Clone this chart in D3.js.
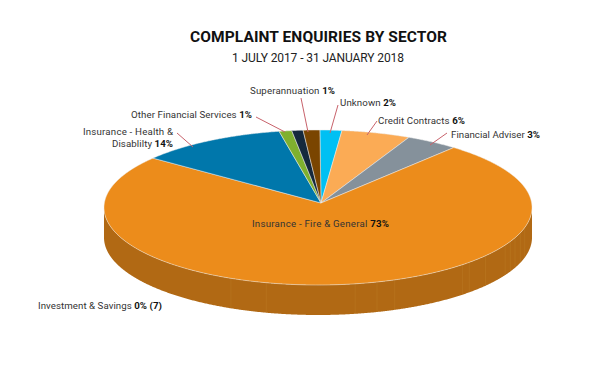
<!DOCTYPE html>
<html>
<head>
<meta charset="utf-8">
<script src="https://cdnjs.cloudflare.com/ajax/libs/d3/7.8.5/d3.min.js"></script>
<style>
html, body { margin: 0; padding: 0; background: #fff; }
svg { display: block; font-family: Roboto, sans-serif; }
</style>
</head>
<body>
<div id="chart"></div>
<script>
// slices clockwise from 12 o'clock, sizes as drawn in the picture (%)
const sectors = ["Unknown", "Credit Contracts", "Financial Adviser", "Insurance - Fire & General",
    "Insurance - Health & Disablilty", "Other Financial Services", "Investment & Savings", "Superannuation"];
const drawnShare = [1.65, 5.2, 3.95, 75.05, 11.1, 0.95, 0.85, 1.25];
const sliceColors = ["#00c0f3", "#fbab55", "#85919b", "#ec8c1b", "#0077ab", "#7fb02f", "#15293d", "#7a4500"];
// percentages as printed on the labels
const printedShare = ["2%", "6%", "3%", "73%", "14%", "1%", "0% (7)", "1%"];
// faint facet seams on the wall, angle round the rim in degrees
const seamDegrees = [204, 194, 170, 164, 159, 137.5, 135, 128.5, 119, 116, 113, 109, 105];

const width = 600, height = 365;
const cx = 318, cy = 207.5, rx = 214, ry = 77.5, depth = 30;
const apex = [321, 203];
const startDeg = 0.5;

const svg = d3.select("#chart").append("svg")
    .attr("width", width)
    .attr("height", height);

svg.append("text")
    .attr("x", 318.5).attr("y", 42)
    .attr("text-anchor", "middle")
    .attr("font-size", 15.5)
    .attr("font-weight", 700)
    .attr("fill", "#111")
    .attr("textLength", 257)
    .text("COMPLAINT ENQUIRIES BY SECTOR");
svg.append("text")
    .attr("x", 318).attr("y", 62)
    .attr("text-anchor", "middle")
    .attr("font-size", 12)
    .attr("fill", "#222")
    .attr("textLength", 172)
    .text("1 JULY 2017 - 31 JANUARY 2018");

const start = startDeg * Math.PI / 180;
const pie = d3.pie().sort(null).startAngle(start).endAngle(start + 2 * Math.PI);
const arcs = pie(drawnShare);

const onRim = (t, dy = 0) => [cx + rx * Math.sin(t), cy - ry * Math.cos(t) + dy];
const rimAngles = (a, b) => d3.range(a, b, 0.005).concat([b]);
const line = d3.line();

// side wall, only the part of a slice that faces the viewer
const wall = svg.append("g");
arcs.forEach((d, i) => {
    const a = Math.max(d.startAngle, Math.PI / 2);
    const b = Math.min(d.endAngle, 3 * Math.PI / 2);
    if (b <= a) return;
    const ts = rimAngles(a, b);
    const pts = ts.map(t => onRim(t)).concat(ts.slice().reverse().map(t => onRim(t, depth)));
    wall.append("path")
        .attr("d", line(pts) + "Z")
        .attr("fill", d3.color(sliceColors[i]).darker(0.8));
});

wall.selectAll("path.seam")
    .data(seamDegrees)
    .enter().append("path")
    .attr("class", "seam")
    .attr("d", d => {
        const t = d * Math.PI / 180;
        return line([onRim(t), onRim(t, depth)]);
    })
    .attr("stroke", "#c98a35")
    .attr("stroke-opacity", 0.25)
    .attr("stroke-width", 1);

// top face
svg.append("g").selectAll("path")
    .data(arcs)
    .enter().append("path")
    .attr("d", d => line([apex].concat(rimAngles(d.startAngle, d.endAngle).map(t => onRim(t)))) + "Z")
    .attr("fill", (d, i) => sliceColors[i])
    .attr("stroke", "#ececec")
    .attr("stroke-width", 0.5)
    .attr("stroke-linejoin", "round");

// labels and leaders, hand placed like the original artwork
const leaders = [
    [[338, 105], [330, 133]],
    [[377, 121], [367, 135]],
    [[447, 133], [430, 145]],
    [[177, 133], [193, 147]],
    [[256, 117], [285, 132]],
    [[301, 98], [308, 132]]
];
svg.append("g").selectAll("path")
    .data(leaders)
    .enter().append("path")
    .attr("d", d => line(d))
    .attr("fill", "none")
    .attr("stroke", "#c8626b")
    .attr("stroke-width", 1);

const labelPlaces = [
    { i: 0, x: 340, y: 106, anchor: "start", w: 56 },
    { i: 1, x: 378, y: 124, anchor: "start", w: 87 },
    { i: 2, x: 451, y: 138, anchor: "start", w: 89 },
    { i: 3, x: 252, y: 227, anchor: "start", w: 137 },
    { i: 5, x: 252, y: 118, anchor: "end", w: 121 },
    { i: 6, x: 38, y: 309, anchor: "start", w: 124 },
    { i: 7, x: 335, y: 94, anchor: "end", w: 85 }
];
const labels = svg.append("g").attr("font-size", 9.7).attr("fill", "#333");
function addLabel(sel, x, y, anchor, name, pct, w) {
    const t = sel.append("text").attr("x", x).attr("y", y).attr("text-anchor", anchor).attr("textLength", w);
    t.append("tspan").text(name + (pct ? " " : ""));
    if (pct) t.append("tspan").attr("font-weight", 700).attr("fill", "#111").text(pct);
}
labelPlaces.forEach(p => addLabel(labels, p.x, p.y, p.anchor, sectors[p.i], printedShare[p.i], p.w));
addLabel(labels, 173, 135, "end", "Insurance - Health &", null, 90);
addLabel(labels, 173, 147, "end", "Disablilty", printedShare[4], 61);
</script>
</body>
</html>
